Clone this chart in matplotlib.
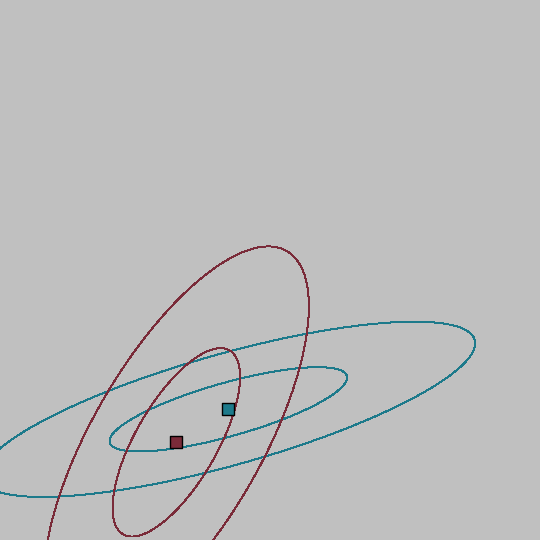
import numpy as np
import matplotlib
matplotlib.use("Agg")
import matplotlib.pyplot as plt
from matplotlib.markers import MarkerStyle

# two groups: mean, spread and correlation (axis units 0..10)
groups = ["A", "B"]
colors = ["#1d7a8b", "#7a2b39"]
mean_x = [4.228, 3.265]
mean_y = [2.420, 1.809]
sd_x = [1.868, 1.003]
sd_y = [0.663, 1.482]
corr = [0.753, 0.694]

# coverage of the two contour levels
levels = [0.50, 0.95]

fig = plt.figure(figsize=(5.4, 5.4), dpi=100)
fig.patch.set_facecolor("#c0c0c0")
ax = fig.add_axes([0, 0, 1, 1])
ax.set_facecolor("#c0c0c0")
ax.set_xlim(0, 10)
ax.set_ylim(0, 10)
ax.axis("off")

t = np.linspace(0, 2 * np.pi, 400)
circle = np.vstack([np.cos(t), np.sin(t)])

for i in range(len(groups)):
    cov = np.array([[sd_x[i] ** 2, corr[i] * sd_x[i] * sd_y[i]],
                    [corr[i] * sd_x[i] * sd_y[i], sd_y[i] ** 2]])
    L = np.linalg.cholesky(cov)
    for p in levels:
        r = np.sqrt(-2 * np.log(1 - p))
        pts = L @ circle * r
        ax.plot(pts[0] + mean_x[i], pts[1] + mean_y[i], color=colors[i],
                lw=0.7, antialiased=False)

sq = MarkerStyle("s", joinstyle="round")
for i in range(len(groups)):
    ax.plot(mean_x[i], mean_y[i], marker=sq, ms=8.5, mfc=colors[i],
            mec="black", mew=1.0, zorder=5, linestyle="none")

fig.savefig("out.png", dpi=100, facecolor=fig.get_facecolor())
